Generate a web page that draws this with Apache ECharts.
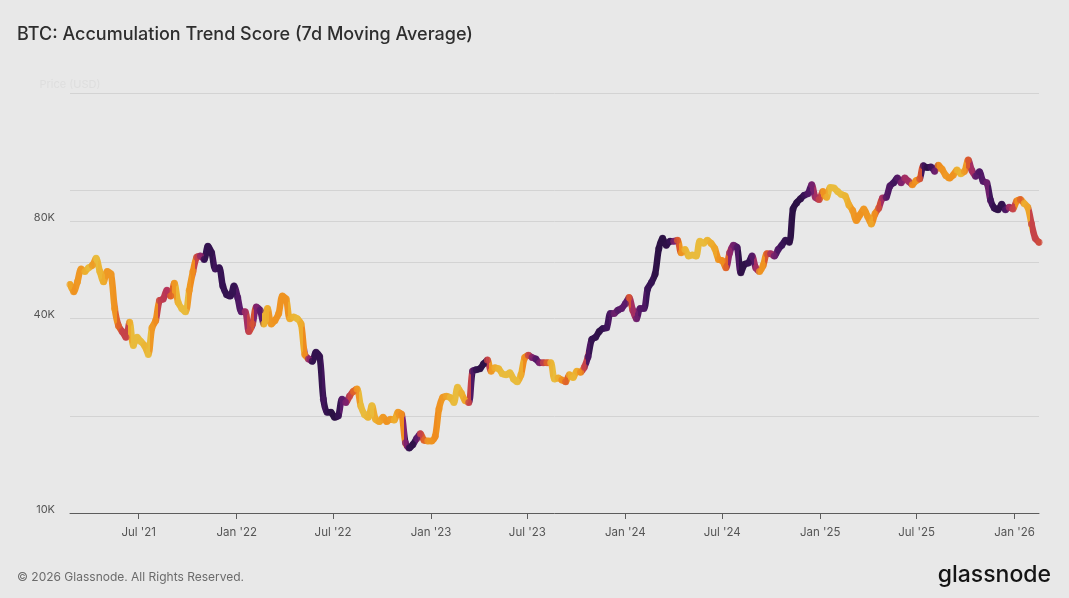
<!DOCTYPE html>
<html><head><meta charset="utf-8">
<script src="https://cdn.jsdelivr.net/npm/echarts@6/dist/echarts.min.js"></script>
<style>html,body{margin:0;padding:0;background:#e8e8e8;}#c{width:1069px;height:598px;}</style>
</head><body><div id="c"></div>
<script>
// ---- data (weekly, Mondays, starting 2021-02-22) ----
const startDate = [2021, 1, 22];
const weekDays = 7;
// BTC price in thousands USD
const price2021 = [51, 48.5, 52, 57, 56, 57.5, 58.5, 61.5, 56, 52,
  56, 55, 43, 38, 36.5, 35, 39, 33, 35, 34,
  33, 31, 37.5, 39.5, 45.5, 46, 49, 47, 51.5, 45,
  43, 42, 49, 56, 62, 62.5, 61, 67, 64, 57,
  57.5, 50.5, 47.5, 47, 50.5];
const price2022 = [46.5, 42, 42, 36.5, 38.5,
  43.5, 42.5, 38.5, 43,
  38.5, 39.5, 41.5, 47,
  46, 40, 40.5, 40,
  38.5, 31, 30, 29.5, 31.5,
  30.5, 22.5, 20.5, 20.5,
  19.8, 20, 22.5, 22,
  23, 23.8, 24.2, 21.5, 20.2,
  19.8, 21.5, 19.5, 19.2,
  19.8, 19.2, 19.5, 19.4, 20.5,
  20.2, 16.5, 15.9, 16.3,
  17, 17.6, 16.8, 16.7];
const price2023 = [16.7, 17.3, 21, 22.8, 23,
  22.8, 22, 24.5, 23.5,
  22.3, 22, 27.5, 27.8,
  28, 29, 29.8, 27.5,
  28.2, 28, 27, 26.8, 27.2,
  26, 25.5, 26.8, 30.3,
  30.8, 30.3, 30, 29.2, 29.2,
  29.2, 29.2, 26, 26.2,
  25.8, 25.5, 26.8, 26.3,
  27.5, 27.3, 28.3, 30.5, 34.5,
  35, 36.5, 37.3, 37.5,
  41.5, 41.5, 42.5, 43];
const price2024 = [44.5, 46.5, 42.5, 40, 43,
  43, 49.5, 51.8, 55,
  66, 71, 67.5, 69.5,
  69.5, 70, 64, 65.5, 62.5,
  63, 62.5, 69.5, 68.5,
  70, 68.5, 66, 61,
  60.5, 57.5, 64, 67.5, 66.5,
  55.5, 59, 59.5, 62.5,
  57.5, 56, 58.5, 63.5, 63.5,
  62.5, 65.5, 67.5, 70,
  69, 87.5, 91.5, 94,
  96.5, 97.5, 104, 95, 93.5];
const price2025 = [99, 95, 102, 101.5,
  99, 97, 96, 90,
  86.5, 80.5, 84, 87.5, 83,
  78.5, 84.5, 88, 94.5,
  95, 103, 105.5, 109,
  105.5, 109, 106.5, 104, 107,
  108.5, 119, 117.5, 118,
  114.5, 119.5, 116, 111,
  109, 111.5, 115.5, 112.5, 114.5,
  124, 115, 110.5, 114,
  106.5, 105.5, 93, 88,
  87, 90.5, 87, 88.5, 87.5];
const price2026 = [92.5, 93.5, 91, 88.5, 78.5, 71, 69];

// Accumulation Trend Score (0 = distribution / yellow, 1 = accumulation / dark)
const score2021 = [0.15, 0.22, 0.2, 0.2, 0.1, 0.05, 0.18, 0.05, 0.08, 0.12,
  0.2, 0.2, 0.22, 0.35, 0.45, 0.45, 0.12, 0.05, 0.05, 0.05,
  0.08, 0.05, 0.2, 0.25, 0.45, 0.48, 0.5, 0.35, 0.2, 0.08,
  0.05, 0.05, 0.2, 0.25, 0.45, 0.6, 0.9, 0.92, 0.92, 0.85,
  0.9, 0.9, 0.92, 0.9, 0.9];
const score2022 = [0.8, 0.75, 0.55, 0.45, 0.4,
  0.65, 0.75, 0.1, 0.12,
  0.2, 0.22, 0.22, 0.22,
  0.22, 0.12, 0.08, 0.06,
  0.12, 0.25, 0.6, 0.92, 0.92,
  0.92, 0.85, 0.92, 0.97,
  0.97, 0.9, 0.75, 0.65,
  0.45, 0.35, 0.2, 0.05, 0.05,
  0.08, 0.05, 0.12, 0.15,
  0.2, 0.22, 0.2, 0.12, 0.2,
  0.25, 0.65, 0.92, 0.95,
  0.75, 0.45, 0.35, 0.2];
const score2023 = [0.22, 0.25, 0.22, 0.2, 0.15,
  0.08, 0.05, 0.05, 0.1,
  0.15, 0.45, 0.8, 0.92,
  0.95, 0.95, 0.45, 0.2,
  0.12, 0.08, 0.05, 0.05, 0.05,
  0.05, 0.05, 0.12, 0.25,
  0.45, 0.65, 0.78, 0.65, 0.45,
  0.35, 0.08, 0.05, 0.12,
  0.25, 0.35, 0.12, 0.08,
  0.12, 0.25, 0.45, 0.8, 0.92,
  0.92, 0.95, 0.9, 0.85,
  0.8, 0.7, 0.78, 0.75];
const score2024 = [0.75, 0.4, 0.55, 0.7, 0.78,
  0.8, 0.88, 0.9, 0.95,
  0.97, 0.97, 0.95, 0.9,
  0.65, 0.38, 0.22, 0.08, 0.05,
  0.05, 0.05, 0.05, 0.05,
  0.08, 0.12, 0.15, 0.22,
  0.25, 0.35, 0.6, 0.7, 0.8,
  0.95, 0.95, 0.9, 0.78,
  0.55, 0.22, 0.22, 0.38, 0.55,
  0.7, 0.8, 0.88, 0.92,
  0.95, 0.97, 0.97, 0.95,
  0.88, 0.8, 0.68, 0.55, 0.45];
const score2025 = [0.22, 0.12, 0.05, 0.05,
  0.05, 0.05, 0.08, 0.12,
  0.2, 0.22, 0.22, 0.2, 0.2,
  0.15, 0.25, 0.42, 0.55,
  0.78, 0.8, 0.85, 0.78,
  0.65, 0.55, 0.55, 0.25, 0.22,
  0.4, 0.85, 0.95, 0.85,
  0.7, 0.25, 0.22, 0.2,
  0.22, 0.22, 0.1, 0.08, 0.2,
  0.38, 0.55, 0.75, 0.8,
  0.78, 0.7, 0.85, 0.92,
  0.95, 0.92, 0.8, 0.55, 0.45];
const score2026 = [0.25, 0.35, 0.12, 0.15, 0.45, 0.45, 0.42];

const yGridValues = [10000, 20000, 40000, 60000, 80000, 100000, 200000];
const yLabelValues = [10000, 40000, 80000];
const xTickMonths = [[2021, 6], [2022, 0], [2022, 6], [2023, 0], [2023, 6], [2024, 0], [2024, 6], [2025, 0], [2025, 6], [2026, 0]];
const monthNames = ['Jan','Feb','Mar','Apr','May','Jun','Jul','Aug','Sep','Oct','Nov','Dec'];
const palette = ['#e6c646', '#eeab2c', '#ef8c1e', '#dc5a2c', '#b6345b', '#88246f', '#5c1b6c', '#3a1458', '#27103f'];

// ---- build ----
const prices = [].concat(price2021, price2022, price2023, price2024, price2025, price2026);
const scores = [].concat(score2021, score2022, score2023, score2024, score2025, score2026);
const DAY = 86400000;
const t0 = Date.UTC(startDate[0], startDate[1], startDate[2]);
const times = prices.map((_, i) => t0 + i * weekDays * DAY);
const tEnd = times[times.length - 1];

function hexToRgb(h) { return [1, 3, 5].map(k => parseInt(h.substr(k, 2), 16)); }
function colorAt(s) {
  const n = palette.length - 1;
  const f = Math.max(0, Math.min(1, s)) * n;
  const i = Math.min(n - 1, Math.floor(f));
  const r = f - i;
  const a = hexToRgb(palette[i]), b = hexToRgb(palette[i + 1]);
  const c = a.map((v, k) => Math.round(v + (b[k] - v) * r));
  return 'rgb(' + c.join(',') + ')';
}

const lineData = times.map((t, i) => [t, prices[i] * 1000]);
const scatterData = times.map((t, i) => [t, prices[i] * 1000, scores[i]]);
const pieces = times.map((t, i) => ({
  gte: i === 0 ? t - 4 * DAY : (times[i - 1] + t) / 2,
  lt: i === times.length - 1 ? t + 4 * DAY : (times[i + 1] + t) / 2,
  color: colorAt(scores[i])
}));
const xTicks = xTickMonths.map(m => Date.UTC(m[0], m[1], 1));

const chart = echarts.init(document.getElementById('c'));
chart.setOption({
  backgroundColor: '#e8e8e8',
  animation: false,
  textStyle: { fontFamily: 'Inter, Roboto, sans-serif' },
  grid: { left: 70, right: 30, top: 93, bottom: 85, containLabel: false, outerBoundsMode: 'none' },
  xAxis: {
    type: 'value', min: t0, max: tEnd, scale: true,
    axisLine: { show: true, lineStyle: { color: '#5c5c5c', width: 1 } },
    axisTick: { show: true, customValues: xTicks, length: 6, lineStyle: { color: '#5c5c5c' } },
    axisLabel: {
      customValues: xTicks, color: '#555', fontSize: 11.5, margin: 14, hideOverlap: false,
      formatter: v => { const d = new Date(v); return monthNames[d.getUTCMonth()] + " '" + String(d.getUTCFullYear()).slice(2); }
    },
    splitLine: { show: false }
  },
  yAxis: {
    type: 'log', logBase: 10, min: 10000, max: 200000,
    name: 'Price (USD)', nameLocation: 'end', nameGap: 3,
    nameTextStyle: { color: '#dedede', fontSize: 11 },
    axisLine: { show: false },
    axisTick: { show: false, customValues: yGridValues },
    axisLabel: { customValues: yLabelValues, color: '#555', fontSize: 11, margin: 15, verticalAlign: 'bottom', padding: [0, 0, -2, 0],
      formatter: v => Math.round(v / 1000) + 'K' },
    splitLine: { show: true, lineStyle: { color: '#d3d3d3', width: 1 } }
  },
  visualMap: [
    { type: 'piecewise', show: false, seriesIndex: 0, dimension: 0, pieces: pieces },
    { type: 'continuous', show: false, seriesIndex: 1, dimension: 2, min: 0, max: 1, inRange: { color: palette } }
  ],
  series: [
    { type: 'line', data: lineData, showSymbol: false, silent: true, z: 2, smooth: 0.3,
      lineStyle: { width: 6.5, cap: 'round', join: 'round' } },
    { type: 'scatter', data: scatterData, symbolSize: 7, z: 3, silent: true }
  ],
  graphic: [
    { type: 'text', left: 17, top: 26, style: { text: 'BTC: Accumulation Trend Score (7d Moving Average)', font: '500 18px Inter, sans-serif', fill: '#2e2e2e' } },
    { type: 'text', left: 17, top: 571, style: { text: '© 2026 Glassnode. All Rights Reserved.', font: '12px Inter, sans-serif', fill: '#6b6b6b' } },
    { type: 'text', right: 18, top: 564, style: { text: 'glassnode', font: '500 23px Inter, sans-serif', fill: '#141414' } }
  ]
});
</script></body></html>
